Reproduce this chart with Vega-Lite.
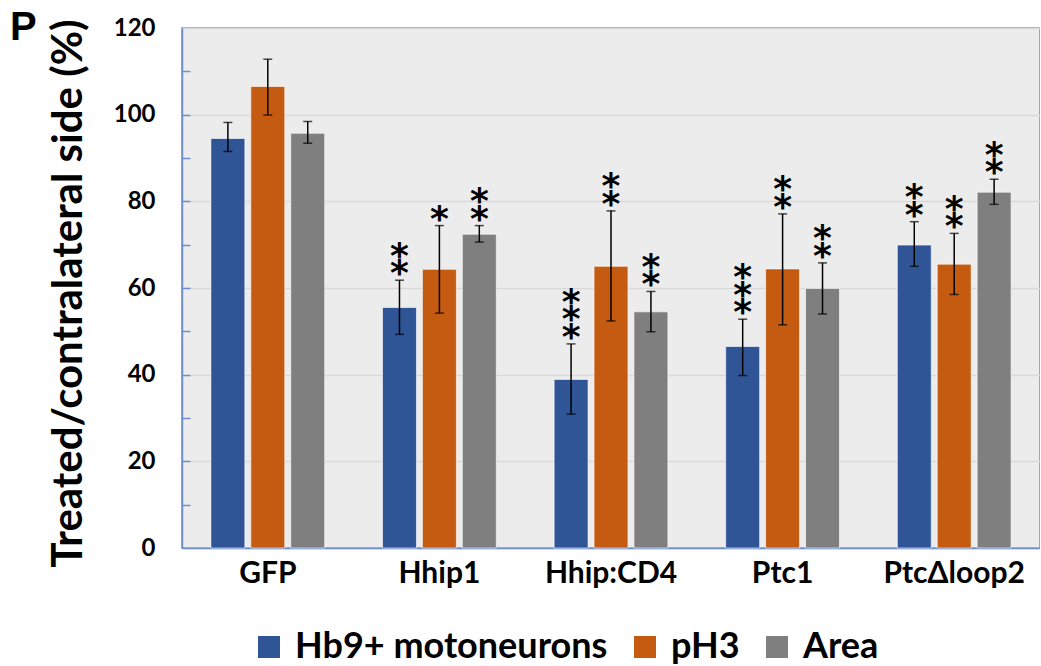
{
  "$schema": "https://vega.github.io/schema/vega-lite/v6.json",
  "width": 858,
  "height": 520,
  "autosize": {"type": "none"},
  "padding": {"left": 182, "top": 28, "right": 0, "bottom": 118},
  "background": "white",
  "config": {
    "font": "Lato",
    "view": {"fill": "#ececec", "stroke": "#6f8fcf", "strokeWidth": 1.5}
  },
  "title": {
    "text": "P",
    "anchor": "start",
    "frame": "group",
    "font": "Liberation Sans",
    "fontSize": 40,
    "fontWeight": "bold",
    "color": "black",
    "baseline": "alphabetic",
    "offset": 0,
    "dx": -172,
    "dy": 64
  },
  "data": {
    "values": [
      {"group": "GFP", "series": "Hb9+ motoneurons", "value": 94.5, "lo": 91.5, "hi": 98.2, "stars": 0},
      {"group": "GFP", "series": "pH3", "value": 106.5, "lo": 99.9, "hi": 112.8, "stars": 0},
      {"group": "GFP", "series": "Area", "value": 95.7, "lo": 93.4, "hi": 98.4, "stars": 0},
      {"group": "Hhip1", "series": "Hb9+ motoneurons", "value": 55.5, "lo": 49.3, "hi": 61.8, "stars": 2},
      {"group": "Hhip1", "series": "pH3", "value": 64.3, "lo": 54.2, "hi": 74.4, "stars": 1},
      {"group": "Hhip1", "series": "Area", "value": 72.4, "lo": 70.6, "hi": 74.4, "stars": 2},
      {"group": "Hhip:CD4", "series": "Hb9+ motoneurons", "value": 38.9, "lo": 30.9, "hi": 47.1, "stars": 3},
      {"group": "Hhip:CD4", "series": "pH3", "value": 65.0, "lo": 52.4, "hi": 77.8, "stars": 2},
      {"group": "Hhip:CD4", "series": "Area", "value": 54.5, "lo": 49.9, "hi": 59.2, "stars": 2},
      {"group": "Ptc1", "series": "Hb9+ motoneurons", "value": 46.5, "lo": 39.8, "hi": 52.8, "stars": 3},
      {"group": "Ptc1", "series": "pH3", "value": 64.4, "lo": 51.5, "hi": 77.1, "stars": 2},
      {"group": "Ptc1", "series": "Area", "value": 59.9, "lo": 54.0, "hi": 65.8, "stars": 2},
      {"group": "PtcΔloop2", "series": "Hb9+ motoneurons", "value": 69.9, "lo": 65.0, "hi": 75.3, "stars": 2},
      {"group": "PtcΔloop2", "series": "pH3", "value": 65.5, "lo": 58.5, "hi": 72.6, "stars": 2},
      {"group": "PtcΔloop2", "series": "Area", "value": 82.1, "lo": 79.3, "hi": 85.1, "stars": 2}
    ]
  },
  "encoding": {
    "x": {
      "field": "group",
      "type": "nominal",
      "sort": ["GFP", "Hhip1", "Hhip:CD4", "Ptc1", "PtcΔloop2"],
      "scale": {"paddingInner": 0.337, "paddingOuter": 0.1685},
      "axis": {
        "title": null,
        "labelAngle": 0,
        "labelFontSize": 30,
        "labelFontWeight": "bold",
        "labelColor": "black",
        "labelPadding": 10,
        "ticks": false,
        "domainColor": "#6f8fcf",
        "domainWidth": 1.5
      }
    },
    "xOffset": {
      "field": "series",
      "type": "nominal",
      "sort": ["Hb9+ motoneurons", "pH3", "Area"],
      "scale": {"paddingInner": 0.15, "paddingOuter": 0}
    }
  },
  "layer": [
    {
      "mark": {"type": "bar", "stroke": "white", "strokeWidth": 1, "strokeOpacity": 0.6},
      "encoding": {
        "y": {
          "field": "value",
          "type": "quantitative",
          "scale": {"domain": [0, 120], "nice": false},
          "axis": {
            "values": [0, 20, 40, 60, 80, 100, 120],
            "title": "Treated/contralateral side (%)",
            "titleFontSize": 42,
            "titleFontWeight": "bold",
            "titleColor": "black",
            "titleAngle": -90,
            "titleX": -114,
            "titleY": 265,
            "titleAlign": "center",
            "titleBaseline": "middle",
            "labelFontSize": 24,
            "labelFontWeight": "bold",
            "labelColor": "black",
            "labelPadding": 27,
            "ticks": false,
            "grid": true,
            "gridColor": "#d9d9d9",
            "gridWidth": 1.5,
            "domainColor": "#6f8fcf",
            "domainWidth": 1.5
          }
        },
        "color": {
          "field": "series",
          "type": "nominal",
          "sort": ["Hb9+ motoneurons", "pH3", "Area"],
          "scale": {"domain": ["Hb9+ motoneurons", "pH3", "Area"], "range": ["#2f5597", "#c55a11", "#7f7f7f"]},
          "legend": {
            "orient": "none",
            "legendX": 69,
            "legendY": 601,
            "direction": "horizontal",
            "title": null,
            "labelFontSize": 36,
            "labelFontWeight": "bold",
            "labelColor": "black",
            "labelLimit": 600,
            "symbolType": "square",
            "symbolSize": 484,
            "symbolStrokeWidth": 0,
            "symbolOpacity": 1,
            "columnPadding": 19,
            "labelOffset": 8
          }
        }
      }
    },
    {
      "mark": {"type": "rule", "color": "black", "strokeWidth": 1.5},
      "encoding": {
        "y": {
          "field": "lo",
          "type": "quantitative",
          "axis": {
            "orient": "left",
            "values": [10, 20, 30, 40, 50, 60, 70, 80, 90, 100, 110],
            "labels": false,
            "grid": false,
            "domain": false,
            "ticks": true,
            "tickSize": -8,
            "tickColor": "#6f8fcf",
            "tickWidth": 1.5,
            "title": null
          }
        },
        "y2": {"field": "hi"}
      }
    },
    {
      "mark": {"type": "tick", "color": "black", "size": 9, "thickness": 1.5, "orient": "horizontal"},
      "encoding": {"y": {"field": "hi", "type": "quantitative", "axis": null}}
    },
    {
      "mark": {"type": "tick", "color": "black", "size": 9, "thickness": 1.5, "orient": "horizontal"},
      "encoding": {"y": {"field": "lo", "type": "quantitative", "axis": null}}
    },
    {
      "transform": [{"filter": "datum.stars >= 1"}],
      "mark": {"type": "text", "text": "*", "font": "DejaVu Sans", "fontSize": 36, "fontWeight": "bold", "color": "black", "baseline": "bottom", "dy": 13},
      "encoding": {"y": {"field": "hi", "type": "quantitative", "axis": null}}
    },
    {
      "transform": [{"filter": "datum.stars >= 2"}],
      "mark": {"type": "text", "text": "*", "font": "DejaVu Sans", "fontSize": 36, "fontWeight": "bold", "color": "black", "baseline": "bottom", "dy": -4.5},
      "encoding": {"y": {"field": "hi", "type": "quantitative", "axis": null}}
    },
    {
      "transform": [{"filter": "datum.stars >= 3"}],
      "mark": {"type": "text", "text": "*", "font": "DejaVu Sans", "fontSize": 36, "fontWeight": "bold", "color": "black", "baseline": "bottom", "dy": -22},
      "encoding": {"y": {"field": "hi", "type": "quantitative", "axis": null}}
    }
  ],
  "resolve": {"axis": {"y": "independent"}}
}
